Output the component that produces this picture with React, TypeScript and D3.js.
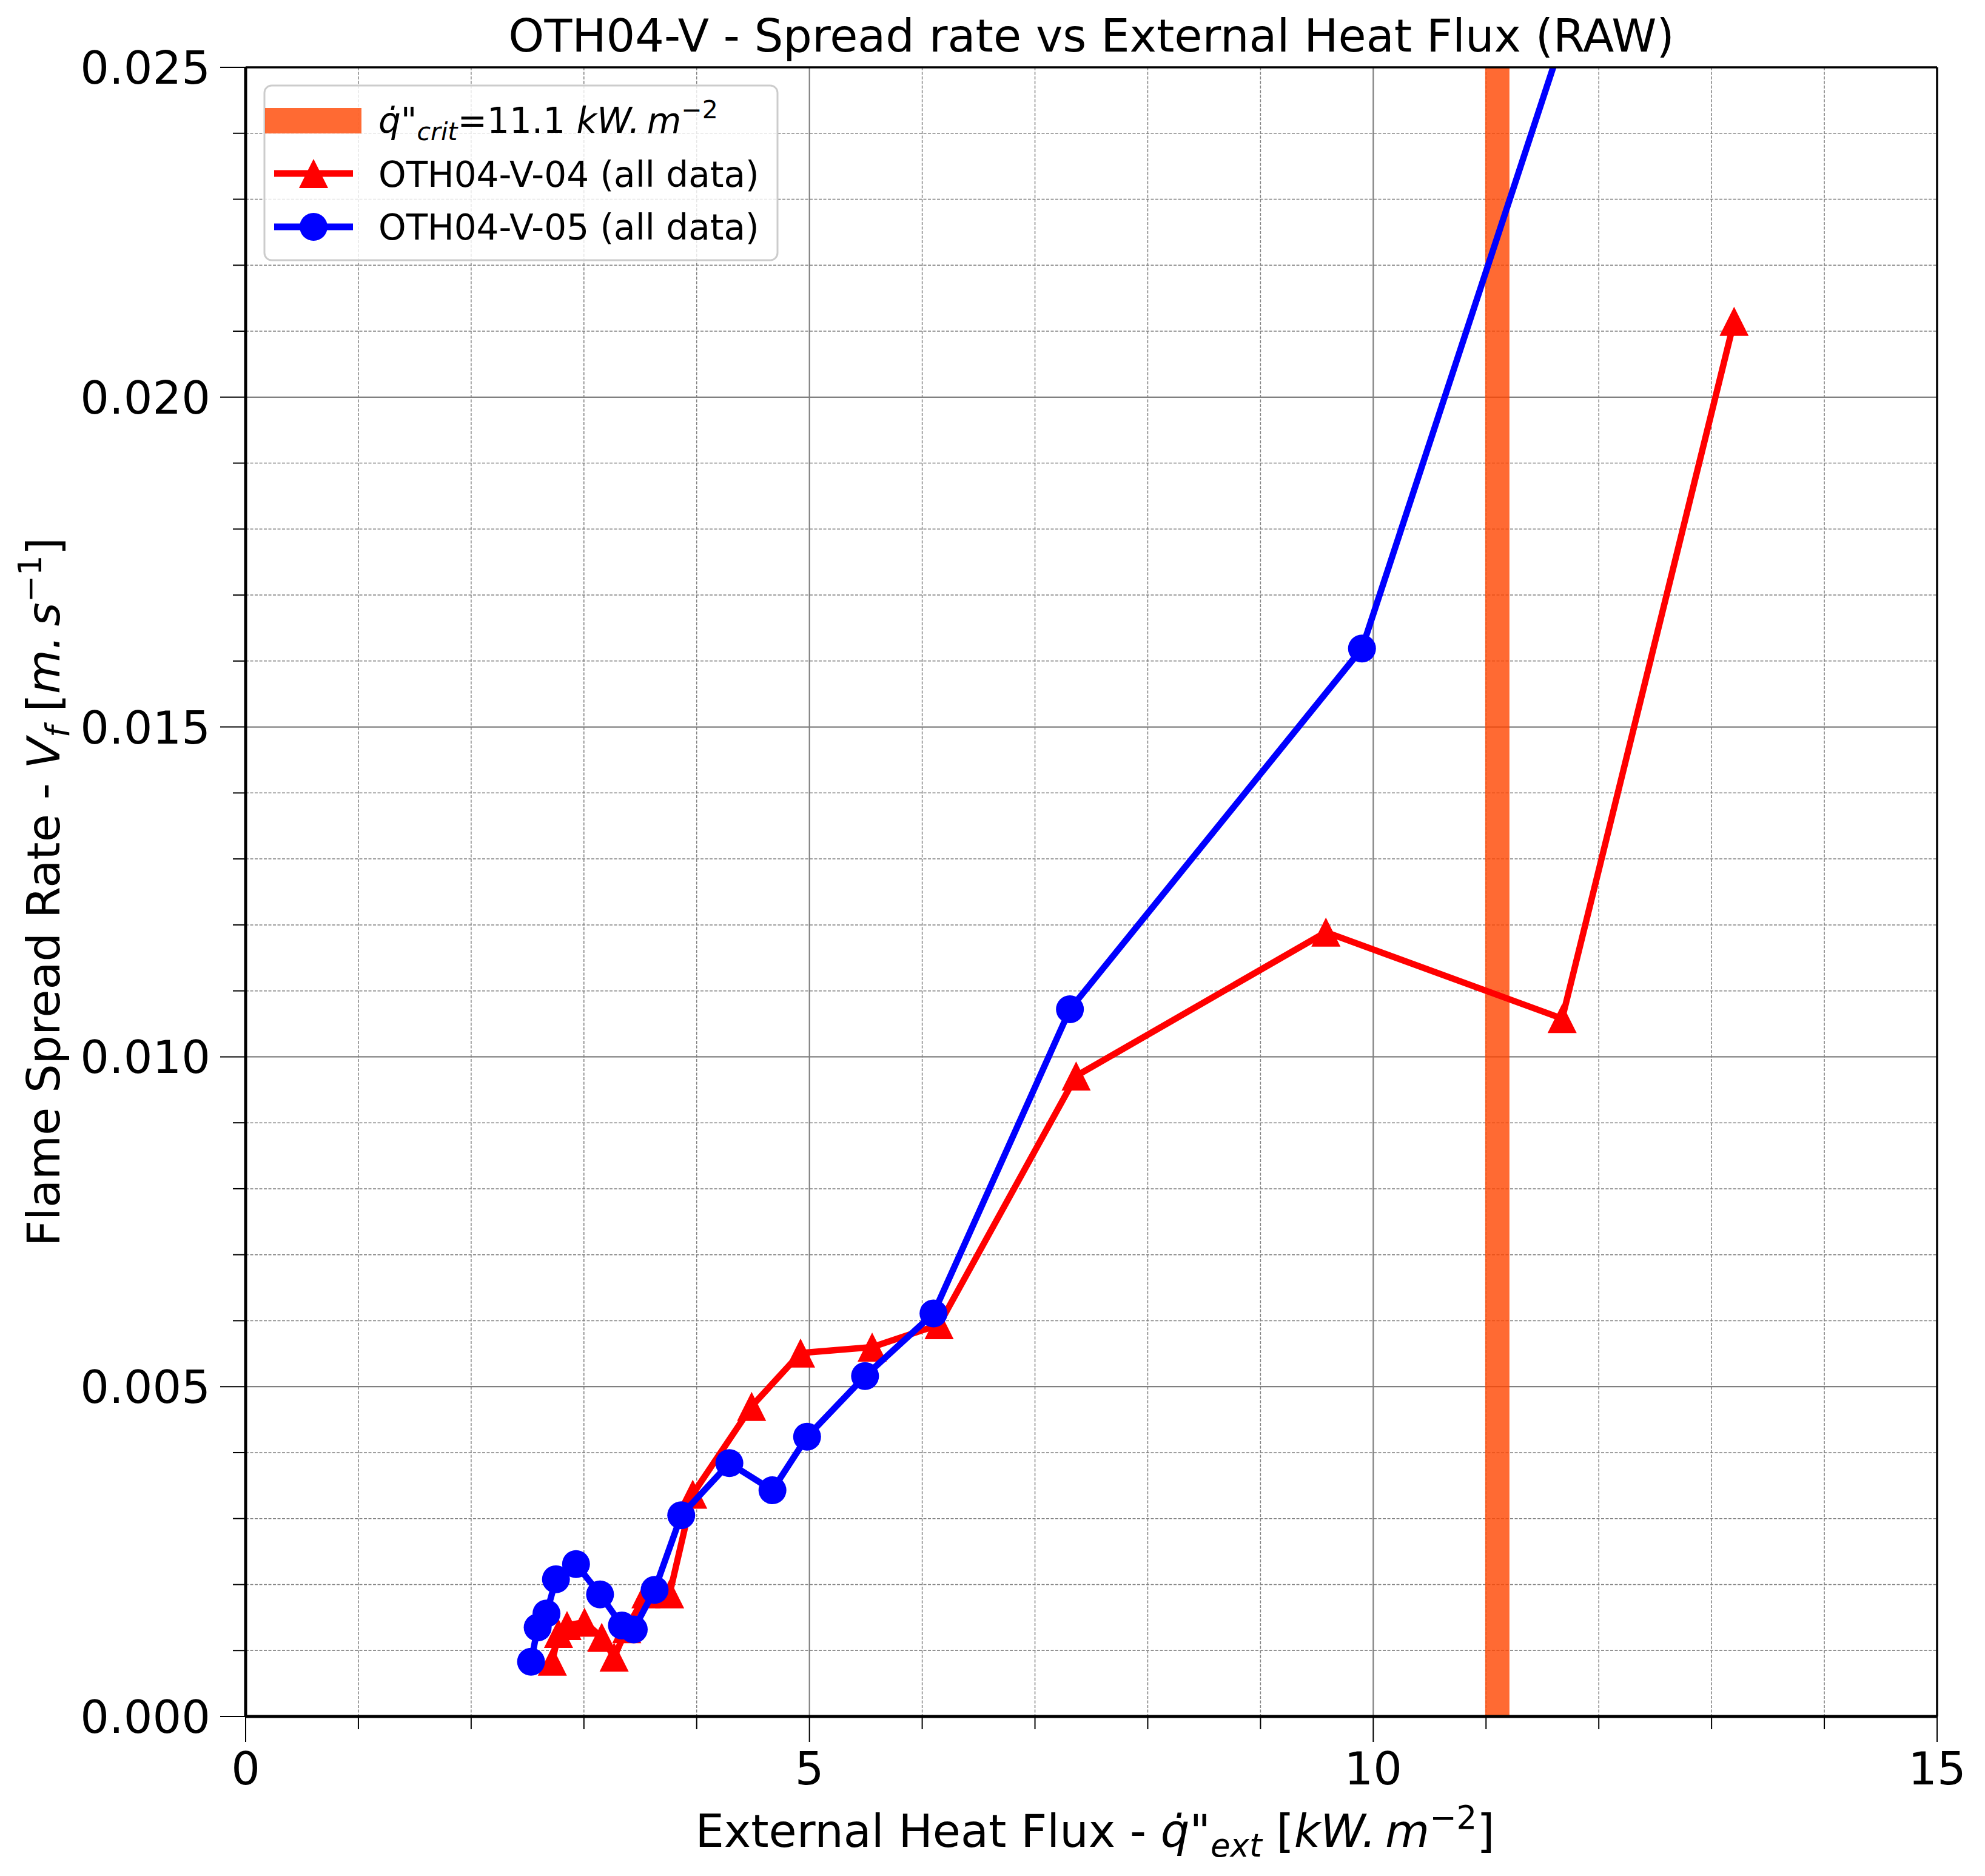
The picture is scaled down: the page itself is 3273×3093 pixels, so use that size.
import React from 'react';
import * as d3 from 'd3';

// Test OTH04-V-04 (red triangles)
const fluxV04 = [2.72, 2.775, 2.85, 3.005, 3.158, 3.268, 3.38, 3.55, 3.76, 3.965, 4.487, 4.921, 5.556, 6.15, 7.365, 9.58, 11.675, 13.2];
const rateV04 = [0.00084, 0.00126, 0.00138, 0.00143, 0.0012, 0.0009, 0.00133, 0.00186, 0.00186, 0.00337, 0.0047, 0.00551, 0.0056, 0.00594, 0.00971, 0.01189, 0.01058, 0.02115];

// Test OTH04-V-05 (blue circles), last point is above the visible range
const fluxV05 = [2.531, 2.59, 2.668, 2.752, 2.93, 3.143, 3.337, 3.442, 3.627, 3.863, 4.29, 4.672, 4.979, 5.493, 6.1, 7.31, 9.9, 12.5];
const rateV05 = [0.00083, 0.00135, 0.00156, 0.00208, 0.00231, 0.00185, 0.00138, 0.00132, 0.00192, 0.00305, 0.00384, 0.00343, 0.00424, 0.00516, 0.00611, 0.01072, 0.01619, 0.0297];

const qCrit = 11.1;
const xMajor = [0, 5, 10, 15];
const yMajor = [0, 0.005, 0.01, 0.015, 0.02, 0.025];
const xMinor = d3.range(0, 16, 1);
const yMinor = d3.range(0, 26, 1).map(d => d / 1000);

const W = 3273;
const H = 3093;
const FONT = '"DejaVu Sans", sans-serif';

const App: React.FC = () => {
  const left = 405, right = 3194, top = 111, bottom = 2830;

  const x = d3.scaleLinear().domain([0, 15]).range([left, right]);
  const y = d3.scaleLinear().domain([0, 0.025]).range([bottom, top]);

  const v04 = fluxV04.map((f, i) => [f, rateV04[i]] as [number, number]);
  const v05 = fluxV05.map((f, i) => [f, rateV05[i]] as [number, number]);

  const line = d3.line<[number, number]>()
    .x(d => x(d[0]))
    .y(d => y(d[1]));

  const tri = (r: number) => `M0,${-r}L${r},${r}L${-r},${r}Z`;

  const legX = 436, legY = 141, legW = 846, legH = 288;

  return (
    <svg width={W} height={H} style={{ position: 'absolute', left: 0, top: 0, background: '#fff' }} fontFamily={FONT}>
      <defs>
        <clipPath id="plot-clip">
          <rect x={left} y={top} width={right - left} height={bottom - top} />
        </clipPath>
      </defs>
      <rect x={0} y={0} width={W} height={H} fill="#fff" />

      {/* minor grid */}
      {xMinor.filter(d => !xMajor.includes(d)).map(d => (
        <line key={'gx' + d} x1={x(d)} x2={x(d)} y1={top} y2={bottom} stroke="#808080" strokeWidth={1.5} strokeDasharray="5,2.5" />
      ))}
      {yMinor.filter((d, i) => i % 5 !== 0).map(d => (
        <line key={'gy' + d} x1={left} x2={right} y1={y(d)} y2={y(d)} stroke="#808080" strokeWidth={1.5} strokeDasharray="5,2.5" />
      ))}
      {/* major grid */}
      {xMajor.map(d => (
        <line key={'Gx' + d} x1={x(d)} x2={x(d)} y1={top} y2={bottom} stroke="#808080" strokeWidth={2.2} />
      ))}
      {yMajor.map(d => (
        <line key={'Gy' + d} x1={left} x2={right} y1={y(d)} y2={y(d)} stroke="#808080" strokeWidth={2.2} />
      ))}

      {/* critical heat flux band */}
      <line x1={x(qCrit)} x2={x(qCrit)} y1={top} y2={bottom} stroke="orangered" strokeOpacity={0.8} strokeWidth={40} />

      <g clipPath="url(#plot-clip)">
        <path d={line(v04) || ''} fill="none" stroke="#ff0000" strokeWidth={10.5} strokeLinejoin="round" />
        {v04.map((d, i) => (
          <path key={'t' + i} d={tri(24)} transform={`translate(${x(d[0])},${y(d[1])})`} fill="#ff0000" />
        ))}
        <path d={line(v05) || ''} fill="none" stroke="#0000ff" strokeWidth={10.5} strokeLinejoin="round" />
        {v05.map((d, i) => (
          <circle key={'c' + i} cx={x(d[0])} cy={y(d[1])} r={23} fill="#0000ff" />
        ))}
      </g>

      {/* spines */}
      <line x1={left} x2={right} y1={top} y2={top} stroke="#000" strokeWidth={3.5} />
      <line x1={right} x2={right} y1={top} y2={bottom} stroke="#000" strokeWidth={3.5} />
      <line x1={left} x2={right} y1={bottom} y2={bottom} stroke="#000" strokeWidth={5} />
      <line x1={left} x2={left} y1={top} y2={bottom} stroke="#000" strokeWidth={5} />

      {/* ticks */}
      {xMinor.map(d => (
        <line key={'tx' + d} x1={x(d)} x2={x(d)} y1={bottom} y2={bottom + (xMajor.includes(d) ? 42 : 21)} stroke="#000" strokeWidth={2} />
      ))}
      {yMinor.map((d, i) => (
        <line key={'ty' + i} x1={left} x2={left - (i % 5 === 0 ? 42 : 21)} y1={y(d)} y2={y(d)} stroke="#000" strokeWidth={2} />
      ))}
      {xMajor.map(d => (
        <text key={'lx' + d} x={x(d)} y={2942} fontSize={75} textAnchor="middle">{d}</text>
      ))}
      {yMajor.map(d => (
        <text key={'ly' + d} x={347} y={y(d)} dy="0.36em" fontSize={75} textAnchor="end">{d3.format('.3f')(d)}</text>
      ))}

      {/* title */}
      <text x={(left + right) / 2} y={85} fontSize={75} textAnchor="middle">OTH04-V - Spread rate vs External Heat Flux (RAW)</text>

      {/* x label */}
      <text x={(left + right) / 2 + 6} y={3045} fontSize={75} textAnchor="middle">
        <tspan>External Heat Flux - </tspan>
        <tspan fontStyle="italic">{'q\u0307'}</tspan>
        <tspan>"</tspan>
        <tspan fontStyle="italic" fontSize={53} dy={16}>ext</tspan>
        <tspan dy={-16}> [</tspan>
        <tspan fontStyle="italic">{'kW.\u2009m'}</tspan>
        <tspan fontSize={53} dy={-30}>−2</tspan>
        <tspan dy={30}>]</tspan>
      </text>

      {/* y label */}
      <text transform={`translate(98,${(top + bottom) / 2}) rotate(-90)`} fontSize={75} textAnchor="middle">
        <tspan>Flame Spread Rate - </tspan>
        <tspan fontStyle="italic">V</tspan>
        <tspan fontStyle="italic" fontSize={53} dy={16}>f</tspan>
        <tspan dy={-16}> [</tspan>
        <tspan fontStyle="italic">{'m.\u2009s'}</tspan>
        <tspan fontSize={53} dy={-30}>−1</tspan>
        <tspan dy={30}>]</tspan>
      </text>

      {/* legend */}
      <rect x={legX} y={legY} width={legW} height={legH} rx={12} fill="#fff" fillOpacity={0.8} stroke="#cccccc" strokeWidth={3} />
      <rect x={437} y={178} width={159} height={42} fill="orangered" fillOpacity={0.8} />
      <text x={624} y={219} fontSize={58}>
        <tspan fontStyle="italic">{'q\u0307'}</tspan>
        <tspan>"</tspan>
        <tspan fontStyle="italic" fontSize={41} dy={12}>crit</tspan>
        <tspan dy={-12}>=11.1 </tspan>
        <tspan fontStyle="italic">{'kW.\u2009m'}</tspan>
        <tspan fontSize={41} dy={-24}>−2</tspan>
      </text>
      <line x1={452} x2={582} y1={286} y2={286} stroke="#ff0000" strokeWidth={11} />
      <path d={tri(24)} transform="translate(517,286)" fill="#ff0000" />
      <text x={624} y={308} fontSize={58}>OTH04-V-04 (all data)</text>
      <line x1={452} x2={582} y1={374} y2={374} stroke="#0000ff" strokeWidth={11} />
      <circle cx={517} cy={374} r={23} fill="#0000ff" />
      <text x={624} y={395} fontSize={58}>OTH04-V-05 (all data)</text>
    </svg>
  );
};

export default App;
